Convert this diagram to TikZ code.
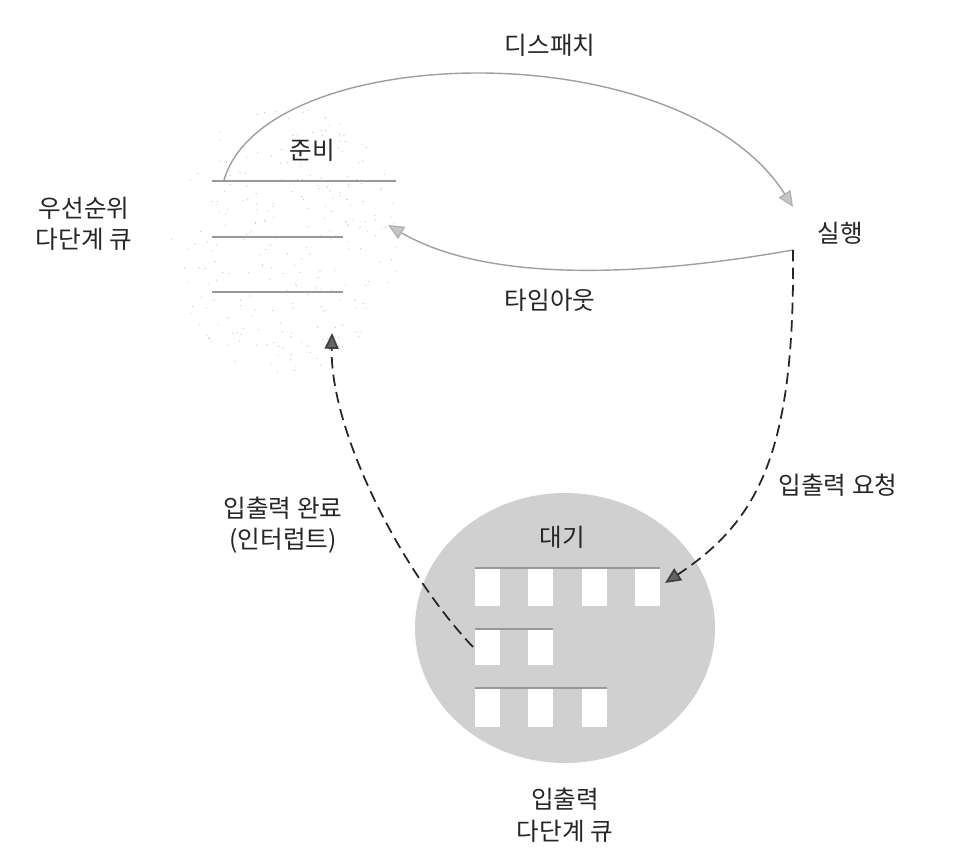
\documentclass[tikz,border=0pt]{standalone}
\usepackage{fontspec}
\newfontfamily\kofont{Noto Sans CJK KR}
\usetikzlibrary{positioning,arrows.meta}
\tikzset{
  lbl/.style={font=\kofont\fontsize{14}{18}\selectfont,text=black!85,align=center,inner sep=0pt},
  solidarr/.style={draw=gray!75,line width=0.8pt,-{Triangle[length=9pt,width=8pt,fill=gray!45,color=gray!60]}},
  dasharr/.style={draw=black!85,line width=1pt,dash pattern=on 6.5pt off 3.5pt,-{Triangle[length=9pt,width=8pt,fill=black!60,color=black!75]}},
  qline/.style={draw=gray!80,line width=0.9pt},
  slot/.style={fill=white},
}

\begin{document}
\begin{tikzpicture}[x=0.02cm,y=-0.02cm]
  \useasboundingbox (0,0) rectangle (970,858);
  % faint stipple round the ready queue
  \pgfmathsetseed{12}
  \foreach \k in {1,...,260} {
    \pgfmathsetmacro\ra{sqrt(rnd)}
    \pgfmathsetmacro\an{360*rnd}
    \fill[gray!50] ({285+115*\ra*cos(\an)},{240+135*\ra*sin(\an)}) circle (0.35pt);
  }
  % ready queue lines
  \draw[qline] (212,181) -- (396,181);
  \draw[qline] (212,237) -- (343,237);
  \draw[qline] (212,292) -- (343,292);
  % waiting circle with slots
  \fill[gray!37] (565,628) ellipse (150 and 135);
  \foreach \x in {475,528,582,635} \fill[slot] (\x,568) rectangle ++(25,38);
  \foreach \x in {475,528} \fill[slot] (\x,629) rectangle ++(25,36);
  \foreach \x in {475,528,582} \fill[slot] (\x,688) rectangle ++(25,39);
  \draw[qline] (475,568) -- (660,568);
  \draw[qline] (475,629) -- (553,629);
  \draw[qline] (475,688) -- (607,688);
  % labels
  \node[lbl] (disp) at (550,45) {디스패치};
  \node[lbl] (ready) at (312,150) {준비};
  \node[lbl] (prio) at (84,224) {우선순위\\다단계 큐};
  \node[lbl] (run) at (840,233) {실행};
  \node[lbl] (tout) at (550,300) {타임아웃};
  \node[lbl] (ioreq) at (838,485) {입출력 요청};
  \node[lbl] (iodone) at (283,525) {입출력 완료\\(인터럽트)};
  \node[lbl] (wait) at (562,537) {대기};
  \node[lbl] (ioq) at (565,815) {입출력\\다단계 큐};
  % arrow ends
  \coordinate (dispS) at (224,180);
  \coordinate (dispE) at (793,207);
  \coordinate (runO) at (793,250);
  \coordinate (readyI) at (388,225);
  \coordinate (waitI) at (665,583);
  \coordinate (waitO) at (473,647);
  \coordinate (readyU) at (332,333);
  % transitions
  \draw[solidarr] (dispS) .. controls (265,40) and (680,30) .. (dispE);
  \draw[solidarr] (runO) .. controls (680,270) and (500,290) .. (readyI);
  \draw[dasharr] (runO) .. controls (795,450) and (760,520) .. (waitI);
  \draw[dasharr] (waitO) .. controls (400,570) and (330,430) .. (readyU);
\end{tikzpicture}
\end{document}
